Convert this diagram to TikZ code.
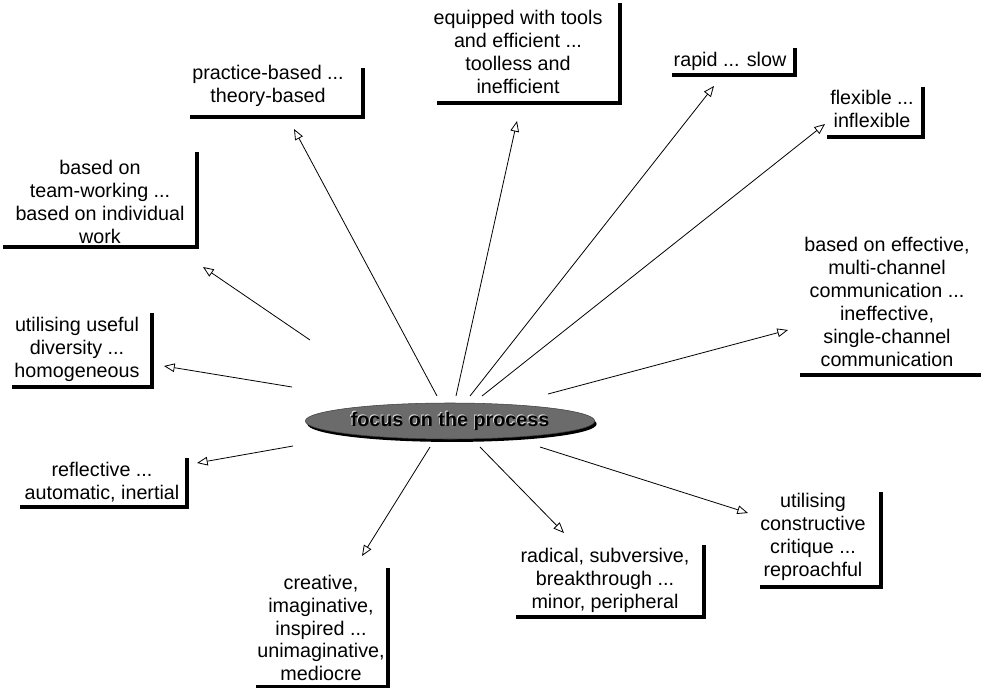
\documentclass[tikz,border=0pt]{standalone}
\usepackage{fontspec}
\setmainfont{Liberation Sans}
\usetikzlibrary{arrows.meta,shapes.geometric,shadows}
% underline and right-hand bar of a label: left, right, top, bottom
\newcommand\shelf[4]{\draw[bar] (#1,#4) -- (#2,#4) -- (#2,#3);}
\begin{document}
\begin{tikzpicture}[x=0.75pt,y=-0.75pt,
  lbl/.style={align=center,font=\fontsize{14.8}{17.2}\selectfont,inner sep=0pt},
  bar/.style={line width=2.4pt,line join=miter},
  link/.style={line width=0.6pt,-{Triangle[open,length=8pt,width=6.5pt,line width=0.6pt]}},
  hub/.style={ellipse,fill=black!58,draw=black!75,line width=0.4pt,
    minimum width=217pt,minimum height=27pt,inner sep=0pt,
    drop shadow={shadow xshift=1.5pt,shadow yshift=-2.2pt,fill=black,opacity=1}},
  hubtext/.style={font=\bfseries\fontsize{14.8}{17}\selectfont,inner sep=0pt},
]
\useasboundingbox (0,0) rectangle (981,688);
\fill[white] (0,0) rectangle (981,688);

% central ellipse with its caption
\node[hub] (focus) at (450,421) {};
\node[hubtext,text=white!80!gray] at ([shift={(-0.6pt,0.6pt)}]focus.center) {focus on the process};
\node[hubtext,text=black] (focustext) at (focus.center) {focus on the process};

% labels
\node[lbl] (practice) at (268,86) {practice-based ...\\theory-based};
\node[lbl] (equipped) at (518,52) {equipped with tools\\and efficient ...\\toolless and\\inefficient};
\node[lbl] (rapid) at (730,61) {rapid ... slow};
\node[lbl] (flexible) at (872,109) {flexible ...\\inflexible};
\node[lbl] (effective) at (887,302) {based on effective,\\multi-channel\\communication ...\\ineffective,\\single-channel\\communication};
\node[lbl] (critique) at (813,537) {utilising\\constructive\\critique ...\\reproachful};
\node[lbl] (radical) at (605,580) {radical, subversive,\\breakthrough ...\\minor, peripheral};
\node[lbl] (creative) at (321,628) {creative,\\imaginative,\\inspired ...\\unimaginative,\\mediocre};
\node[lbl] (reflective) at (102,482) {reflective ...\\automatic, inertial};
\node[lbl] (diversity) at (77,349) {utilising useful\\diversity ...\\homogeneous};
\node[lbl] (team) at (100,202) {based on\\team-working ...\\based on individual\\work};

% bars under and right of each label
\shelf{190}{363}{68}{117}
\shelf{437}{620}{3}{103}
\shelf{672}{795}{48}{75}
\shelf{827}{923}{87}{137}
\draw[bar] (800,375) -- (981,375);
\shelf{760}{881}{492}{587}
\shelf{516}{704}{545}{617}
\shelf{256}{388}{568}{687}
\shelf{20}{187}{458}{507}
\shelf{12}{152}{313}{387}
\shelf{3}{197}{152}{247}

% ends of the connectors
\coordinate (s1) at (437,396);  \coordinate (t1) at (294,129);
\coordinate (s2) at (456,396);  \coordinate (t2) at (517,121);
\coordinate (s3) at (470,396);  \coordinate (t3) at (714,86);
\coordinate (s4) at (482,396);  \coordinate (t4) at (825,124);
\coordinate (s5) at (548,394);  \coordinate (t5) at (788,330);
\coordinate (s6) at (540,447);  \coordinate (t6) at (748,513);
\coordinate (s7) at (480,447);  \coordinate (t7) at (564,533);
\coordinate (s8) at (430,447);  \coordinate (t8) at (362,556);
\coordinate (s9) at (293,446);  \coordinate (t9) at (197,463);
\coordinate (s10) at (292,387); \coordinate (t10) at (164,366);
\coordinate (s11) at (310,340); \coordinate (t11) at (203,267);

\foreach \i in {1,...,11}
  \draw[link] (s\i) -- (t\i);
\end{tikzpicture}
\end{document}
